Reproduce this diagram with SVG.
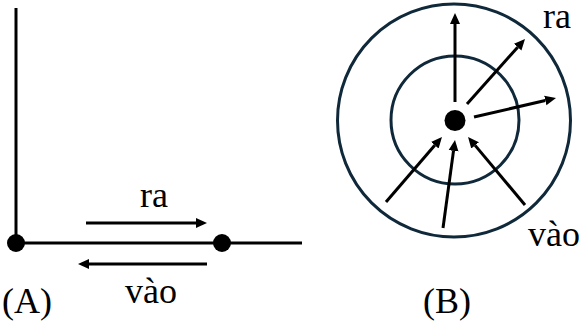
<svg xmlns="http://www.w3.org/2000/svg" width="580" height="326" viewBox="0 0 580 326">
  <style>
    .ln { stroke: #000; stroke-width: 3; fill: none; }
    .ring { stroke: #10293a; stroke-width: 3; fill: none; }
    .arr { stroke: #000; stroke-width: 3; fill: none; marker-end: url(#head); }
    .lbl { font-family: 'Liberation Serif', 'Times New Roman', serif; font-size: 36px; fill: #000; }
  </style>
  <defs>
    <marker id="head" markerUnits="userSpaceOnUse" markerWidth="12" markerHeight="12" refX="0" refY="5" orient="auto" viewBox="0 0 12 10">
      <path d="M0,0 L11,5 L0,10 z" fill="#000"/>
    </marker>
  </defs>

  <!-- Panel A: axis lines with two points -->
  <g id="panel-a">
    <line class="ln" x1="16" y1="8" x2="16" y2="243"/>
    <line class="ln" x1="16" y1="243" x2="302" y2="243"/>
    <circle cx="16" cy="243" r="9" fill="#000"/>
    <circle cx="222" cy="243" r="9" fill="#000"/>
    <text class="lbl" x="154" y="207" text-anchor="middle">ra</text>
    <text class="lbl" x="151" y="303" text-anchor="middle">vào</text>
    <text class="lbl" x="2" y="313">(A)</text>
  </g>

  <!-- Panel B: concentric rings around a central point -->
  <g id="panel-b">
    <circle class="ring" cx="454" cy="120.5" r="116.5"/>
    <circle class="ring" cx="455" cy="120" r="64"/>
    <circle cx="455" cy="120.5" r="10.5" fill="#000"/>
    <text class="lbl" x="543" y="28">ra</text>
    <text class="lbl" x="528" y="246">vào</text>
    <text class="lbl" x="423" y="313">(B)</text>
  </g>

  <!-- Arrows -->
  <g id="connectors">
    <line class="arr" x1="86" y1="223" x2="196" y2="223"/>
    <line class="arr" x1="207" y1="264" x2="89" y2="264"/>
    <line class="arr" x1="455" y1="102" x2="455" y2="24"/>
    <line class="arr" x1="467" y1="104" x2="517.7" y2="47.2"/>
    <line class="arr" x1="474" y1="117" x2="545.3" y2="100.5"/>
    <line class="arr" x1="386" y1="202" x2="434.8" y2="145.3"/>
    <line class="arr" x1="443" y1="228" x2="453.5" y2="150.9"/>
    <line class="arr" x1="525" y1="205" x2="475.1" y2="145.4"/>
  </g>
</svg>
